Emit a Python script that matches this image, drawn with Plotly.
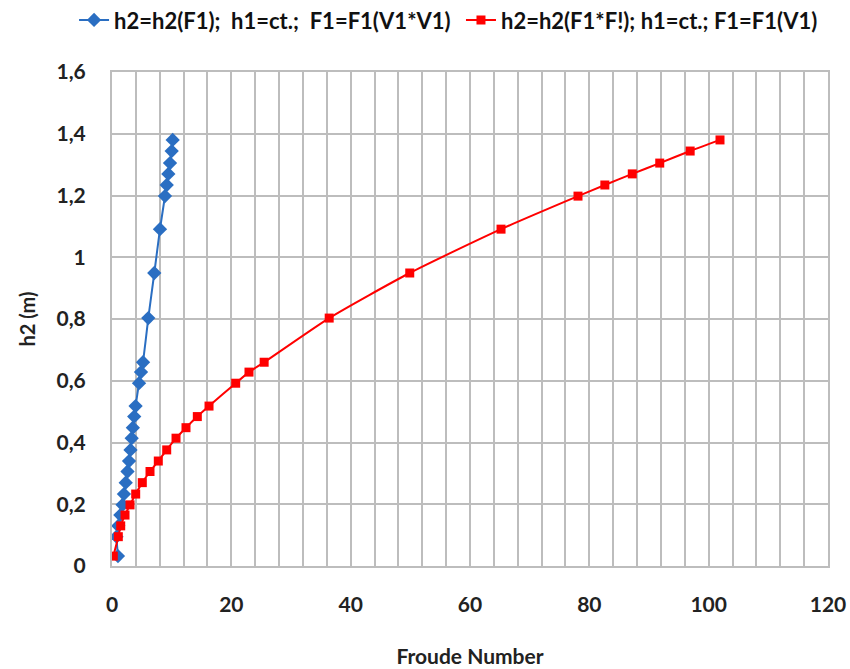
import plotly.graph_objects as go

# h2 values (m) shared by both series
h2_values = [0.032, 0.095, 0.13, 0.165, 0.198, 0.233, 0.27, 0.306, 0.34, 0.376,
             0.414, 0.448, 0.484, 0.518, 0.592, 0.628, 0.66, 0.803, 0.949, 1.091,
             1.198, 1.234, 1.27, 1.305, 1.344, 1.38]

# Blue series: h2 = h2(F1)
froude_blue = [1.0, 0.75, 1.05, 1.4, 1.77, 2.0, 2.3, 2.6, 2.85, 3.1,
               3.3, 3.5, 3.72, 3.95, 4.53, 4.86, 5.2, 6.08, 7.09, 8.04,
               8.88, 9.17, 9.44, 9.72, 10.0, 10.17]

# Red series: h2 = h2(F1*F1)
froude_red = [0.22, 1.06, 1.46, 2.18, 3.02, 3.97, 5.08, 6.37, 7.76, 9.17,
              10.73, 12.40, 14.30, 16.26, 20.73, 22.96, 25.5, 36.4, 49.9, 65.2,
              78.1, 82.6, 87.2, 91.8, 96.9, 101.9]

NB = "\u00a0"
name_blue = f"h2=h2(F1);{NB}{NB}h1=ct.;{NB}{NB}F1=F1(V1*V1)"
name_red = "h2=h2(F1*F!); h1=ct.; F1=F1(V1)"

FONT = "Lato, Roboto, sans-serif"
GRID = "#BDBDBD"

fig = go.Figure()
fig.add_trace(go.Scatter(
    x=froude_blue, y=h2_values, name=name_blue, mode="lines+markers",
    line=dict(color="#2A6EC2", width=2, shape="spline", smoothing=0.3),
    marker=dict(symbol="diamond", size=11, color="#2A6EC2"),
    legend="legend",
))
fig.add_trace(go.Scatter(
    x=froude_red, y=h2_values, name=name_red, mode="lines+markers",
    line=dict(color="#FF0000", width=2, shape="spline", smoothing=0.6),
    marker=dict(symbol="square", size=9, color="#FF0000"),
    legend="legend2",
))

legend_font = dict(family=FONT, size=22, color="#111111", weight="bold")
fig.update_layout(
    width=850, height=669,
    margin=dict(l=112, r=22, t=72, b=103, autoexpand=False),
    plot_bgcolor="white", paper_bgcolor="white",
    separators=", ",
    font=dict(family=FONT, size=21, color="#222222"),
    legend=dict(orientation="h", x=-0.053, y=1.105, xanchor="left", yanchor="middle",
                font=legend_font, bgcolor="rgba(0,0,0,0)"),
    legend2=dict(orientation="h", x=0.4874, y=1.105, xanchor="left", yanchor="middle",
                 font=legend_font, bgcolor="rgba(0,0,0,0)"),
    showlegend=True,
)
fig.update_xaxes(
    range=[0, 120], dtick=20, tick0=0,
    showgrid=True, gridcolor=GRID, gridwidth=2,
    minor=dict(dtick=4, showgrid=True, gridcolor=GRID, gridwidth=2),
    showline=True, linecolor=GRID, linewidth=2, mirror=True,
    zeroline=False, ticks="", ticklabelstandoff=19,
    tickfont=dict(family=FONT, size=21, weight="bold"),
    title=dict(text="Froude Number", font=dict(family=FONT, size=21, weight="bold"), standoff=34),
)
fig.update_yaxes(
    range=[0, 1.6], dtick=0.2, tick0=0,
    showgrid=True, gridcolor=GRID, gridwidth=2,
    showline=True, linecolor=GRID, linewidth=2, mirror=True,
    zeroline=False, ticks="", ticklabelstandoff=20,
    tickfont=dict(family=FONT, size=21, weight="bold"),
    title=dict(text="h2 (m)", font=dict(family=FONT, size=20, weight="bold"), standoff=16),
)

fig.write_html(
    "out.html",
    config={"displayModeBar": False},
    post_script="document.body.style.margin='0';document.body.style.overflow='hidden';",
)
